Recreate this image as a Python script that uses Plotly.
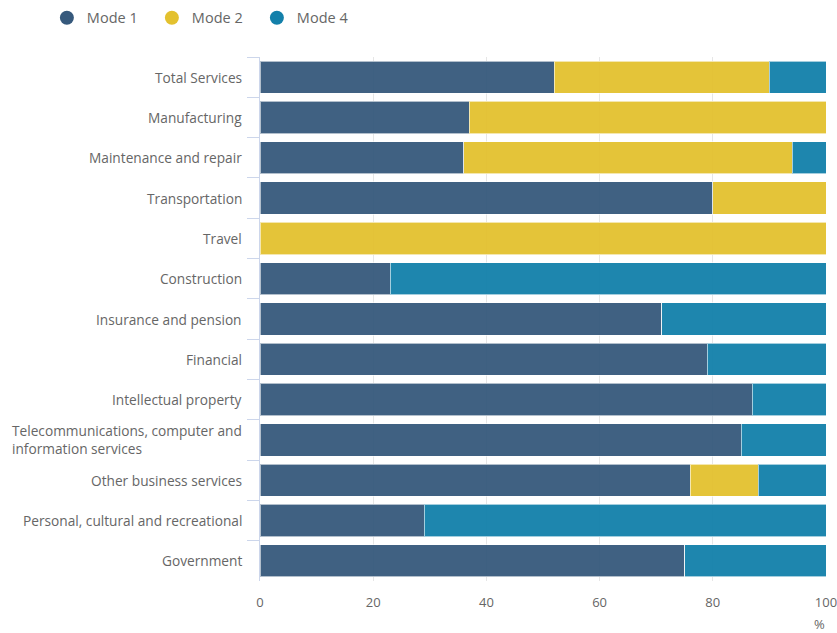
import plotly.graph_objects as go

# Share of services trade by mode of supply (%)
categories = [
    "Total Services",
    "Manufacturing",
    "Maintenance and repair",
    "Transportation",
    "Travel",
    "Construction",
    "Insurance and pension",
    "Financial",
    "Intellectual property",
    "Telecommunications, computer and<br>information services",
    "Other business services",
    "Personal, cultural and recreational",
    "Government",
]
mode1 = [52, 37, 36, 80, 0, 23, 71, 79, 87, 85, 76, 29, 75]
mode2 = [38, 63, 58, 20, 100, 0, 0, 0, 0, 0, 12, 0, 0]
mode4 = [10, 0, 6, 0, 0, 77, 29, 21, 13, 15, 12, 71, 25]

series = [
    ("Mode 1", mode1, "#36597c"),
    ("Mode 2", mode2, "#e3c12f"),
    ("Mode 4", mode4, "#1380aa"),
]

x_ticks = [0, 20, 40, 60, 80, 100]

FONT = "Open Sans"
TEXT = "#666666"
AXIS = "#ccd6eb"

fig = go.Figure()
for name, vals, color in series:
    fig.add_trace(go.Bar(
        y=categories,
        x=vals,
        name=name,
        orientation="h",
        showlegend=False,
        legendgroup=name,
        marker=dict(color=color, opacity=0.95,
                    line=dict(color="rgba(255,255,255,0.6)", width=1)),
        hovertemplate="%{y}: %{x}%<extra>" + name + "</extra>",
    ))

# Round legend markers
for name, vals, color in series:
    fig.add_trace(go.Scatter(
        x=[None], y=[None], mode="markers", name=name,
        legendgroup=name,
        marker=dict(symbol="circle", size=14, color=color),
        hoverinfo="skip",
    ))

# Category labels: right-aligned boxes, lines left-aligned inside
for cat in categories:
    fig.add_annotation(
        x=0, xref="paper", y=cat, yref="y",
        text=cat, showarrow=False,
        xanchor="right", align="left", xshift=-16,
        font=dict(family=FONT, size=13.7, color=TEXT),
    )

fig.add_annotation(
    x=1, xref="paper", y=0, yref="paper",
    text="%", showarrow=False, xanchor="right", yanchor="top",
    yshift=-32, xshift=1,
    font=dict(family=FONT, size=13, color=TEXT),
)

fig.update_layout(
    width=837, height=633,
    margin=dict(l=260, r=11, t=57, b=52, autoexpand=False),
    barmode="stack",
    bargap=0.2,
    plot_bgcolor="white",
    paper_bgcolor="white",
    font=dict(family=FONT, size=13, color=TEXT),
    legend=dict(
        orientation="h",
        xref="container", yref="container",
        x=0.056, y=0.997, xanchor="left", yanchor="top",
        font=dict(family=FONT, size=14.5, color=TEXT),
        traceorder="normal",
        entrywidth=60, entrywidthmode="pixels",
    ),
    xaxis=dict(
        range=[0, 100],
        tickvals=x_ticks,
        automargin=False,
        showgrid=True, gridcolor="#e6e6e6", gridwidth=1,
        zeroline=False, showline=False,
        ticks="", tickfont=dict(family=FONT, size=13, color=TEXT),
        ticklabelstandoff=12,
        ticklabeloverflow="allow",
        fixedrange=True,
    ),
    yaxis=dict(
        autorange="reversed",
        automargin=False,
        showticklabels=False,
        ticks="outside", tickson="boundaries", ticklen=12,
        tickcolor=AXIS, tickwidth=1,
        showline=True, linecolor=AXIS, linewidth=1,
        showgrid=False,
        fixedrange=True,
    ),
)

fig.write_html("out.html")
